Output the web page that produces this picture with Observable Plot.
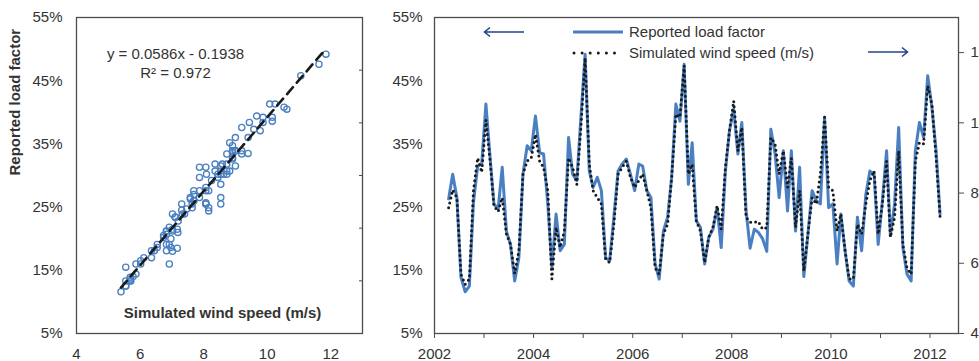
<!DOCTYPE html>
<html>
<head>
<meta charset="utf-8">
<script src="https://cdn.jsdelivr.net/npm/d3@7"></script>
<script src="https://cdn.jsdelivr.net/npm/@observablehq/plot@0.6"></script>
<style>
  html, body { margin: 0; padding: 0; background: #fff; }
  #wrap { position: relative; width: 979px; height: 361px; display: flex; overflow: hidden;
          font-family: "Liberation Sans", Arial, Helvetica, sans-serif; }
  #wrap svg.plot-svg { display: block; flex: none; }
  #overlay { position: absolute; left: 0; top: 0; pointer-events: none; }
</style>
</head>
<body>
<div id="wrap"></div>
<script>
// ---------------- DATA ----------------
// Monthly series, first month April 2002, last month March 2012
const firstMonth = [2002, 4];
// Simulated wind speed (m/s)
const windSpeed = [
  7.58, 8.09, 7.87, 5.69, 5.40, 5.55, 8.07, 9.00, 8.59,
  10.08, 8.91, 7.64, 7.47, 7.87, 6.83, 6.54, 5.71, 6.36, 8.54, 8.91, 9.00,
  9.67, 8.91, 8.73, 8.07, 5.55, 7.02, 6.45, 6.92, 9.00, 8.73, 8.25, 9.87,
  11.85, 8.82, 8.07, 7.87, 7.69, 6.12, 6.02, 7.11, 8.54, 8.73, 8.91, 8.45,
  8.16, 8.36, 8.54, 8.07, 7.58, 5.87, 5.69, 6.83, 7.11, 8.45, 10.25, 10.16,
  11.63, 8.54, 8.82, 7.20, 6.92, 6.02, 6.74, 7.02, 7.64, 6.97, 8.73, 9.78,
  10.62, 9.20, 9.87, 7.31, 7.17, 7.17, 7.19, 6.97, 7.02, 9.58, 9.40, 8.54,
  9.20, 8.16, 9.00, 7.02, 8.07, 5.78, 6.83, 7.87, 7.69, 8.54, 10.16, 8.16,
  8.07, 6.92, 7.40, 6.36, 5.55, 5.55, 7.11, 6.83, 7.69, 8.36, 8.63, 6.83,
  7.69, 8.91, 6.74, 7.31, 9.20, 6.54, 5.87, 5.69, 8.91, 9.44, 9.40, 11.06,
  10.53, 9.00, 7.33
];
// Reported load factor (%)
const loadFactor = [
  26.3, 30.2, 26.5, 13.9, 11.6, 12.5, 25.7, 31.5, 31.8,
  41.3, 32.8, 25.5, 24.7, 31.3, 21.2, 19.1, 13.3, 17.0, 30.2, 34.7, 33.9,
  39.4, 33.6, 33.4, 25.5, 15.5, 23.9, 18.1, 19.1, 36.0, 30.2, 29.2, 39.2,
  49.2, 30.7, 28.1, 29.7, 27.6, 17.0, 16.5, 23.4, 30.7, 31.8, 32.6, 30.2,
  27.6, 31.8, 31.5, 27.6, 26.5, 16.0, 13.6, 21.2, 23.4, 29.7, 41.3, 38.6,
  47.6, 28.6, 35.2, 22.8, 21.8, 16.0, 20.2, 21.5, 24.9, 18.6, 30.7, 37.1,
  40.5, 33.4, 38.4, 24.5, 18.5, 21.5, 21.0, 20.0, 18.0, 37.3, 33.5, 26.5,
  33.9, 24.4, 33.9, 21.2, 31.3, 14.0, 20.7, 27.6, 26.0, 25.5, 39.2, 24.9,
  25.5, 16.0, 23.9, 18.1, 13.3, 12.5, 23.4, 18.1, 27.0, 30.7, 30.2, 19.1,
  26.0, 33.9, 20.5, 25.5, 37.6, 18.6, 14.4, 13.3, 33.9, 38.4, 36.0, 45.8,
  40.8, 33.9, 23.9
];
// Regression fit shown on the scatter
const fitSlope = 0.0586, fitIntercept = -0.1938;
const equationText = ["y = 0.0586x - 0.1938", "R\u00b2 = 0.972"];
// Axis ticks
const pctTicks = [0.05, 0.15, 0.25, 0.35, 0.45, 0.55];
const scatterXTicks = [4, 6, 8, 10, 12];
const windAxisTicks = [4, 6, 8, 10, 12];
const yearTickRange = [2002, 2012];
const secondaryDivisions = [1, 2, 3, 4, 5];
const legendLabels = ["Reported load factor", "Simulated wind speed (m/s)"];

// ---------------- SETUP ----------------
const FONT = '"Liberation Sans", Arial, Helvetica, sans-serif';
const BLUE = "#4a7fc1";
const DOT = "#1a1a1a";
const FRAME = "#4d4d4d";
const TXT = "#333";
const yDomain = [0.05, 0.55];
const windDomain = [4, 13];
// secondary (wind) axis maps onto the load-factor axis
const windToY = d3.scaleLinear().domain(windDomain).range(yDomain);

const series = windSpeed.map((w, i) => ({
  date: new Date(Date.UTC(firstMonth[0], firstMonth[1] - 1 + i, 15)),
  wind: w,
  lf: loadFactor[i] / 100
}));
const windExtent = d3.extent(windSpeed);
const fitLine = windExtent.map(x => ({x, y: fitSlope * x + fitIntercept}));
const pctFmt = d => `${Math.round(d * 100)}%`;
const style = {fontFamily: FONT, fontSize: "15px", color: TXT, background: "transparent", overflow: "visible"};

// ---------------- LEFT: scatter ----------------
const left = Plot.plot({
  width: 375, height: 361,
  marginLeft: 76, marginRight: 13, marginTop: 17, marginBottom: 28,
  style,
  x: {domain: windDomain},
  y: {domain: yDomain},
  marks: [
    Plot.axisX({ticks: scatterXTicks, tickSize: 0, tickPadding: 15, label: null}),
    Plot.axisY({ticks: pctTicks, tickSize: 0, tickPadding: 14, tickFormat: pctFmt, label: null}),
    Plot.axisY({anchor: "right", ticks: secondaryDivisions.map(k => yDomain[0] + k * (yDomain[1] - yDomain[0]) / 6),
                tickSize: 4, dx: -4, tickFormat: () => "", label: null, stroke: FRAME}),
    Plot.dot(series, {x: "wind", y: "lf", r: 3.1, stroke: BLUE, strokeWidth: 1.3, fill: "none"}),
    Plot.line(fitLine, {x: "x", y: "y", stroke: DOT, strokeWidth: 2.6, strokeDasharray: "9,6"}),
    Plot.frame({stroke: FRAME, strokeWidth: 1.3}),
    Plot.text([equationText[0]], {frameAnchor: "top-left", textAnchor: "middle", dx: 99, dy: 31, fill: TXT, fontSize: 15}),
    Plot.text([equationText[1]], {frameAnchor: "top-left", textAnchor: "middle", dx: 99, dy: 50, fill: TXT, fontSize: 15}),
    Plot.text(["Simulated wind speed (m/s)"], {frameAnchor: "bottom", dx: 3, dy: -16, fill: TXT, fontSize: 15, fontWeight: "bold"}),
    Plot.text(["Reported load factor"], {frameAnchor: "left", dx: -61, rotate: -90, fill: TXT, fontSize: 15, fontWeight: "bold"})
  ]
});

// ---------------- RIGHT: time series ----------------
const yearTicks = d3.range(yearTickRange[0], yearTickRange[1] + 1).map(y => new Date(Date.UTC(y, 0, 1)));
const right = Plot.plot({
  width: 604, height: 361,
  marginLeft: 59, marginRight: 21, marginTop: 17, marginBottom: 28,
  style,
  x: {type: "utc", domain: [new Date(Date.UTC(2002, 0, 1)), new Date(Date.UTC(2012, 6, 29))]},
  y: {domain: yDomain},
  marks: [
    Plot.axisX({ticks: yearTicks, tickSize: 5, tickPadding: 10, stroke: FRAME,
                tickFormat: d => d.getUTCFullYear() % 2 === 0 ? String(d.getUTCFullYear()) : "", label: null}),
    Plot.axisY({ticks: pctTicks, tickSize: 0, tickPadding: 12, tickFormat: pctFmt, label: null}),
    Plot.axisY({anchor: "right", ticks: windAxisTicks.map(w => windToY(w)), tickSize: 5, tickPadding: 7, stroke: FRAME,
                tickFormat: d => String(Math.round(windToY.invert(d))), label: null}),
    Plot.line(series, {x: "date", y: "lf", stroke: BLUE, strokeWidth: 3, strokeLinejoin: "round"}),
    Plot.line(series, {x: "date", y: d => windToY(d.wind), stroke: DOT, strokeWidth: 3,
                       strokeDasharray: "0,5", strokeLinecap: "round"}),
    Plot.frame({stroke: FRAME, strokeWidth: 1.3})
  ]
});

const wrap = document.getElementById("wrap");
left.classList.add("plot-svg");
right.classList.add("plot-svg");
wrap.appendChild(left);
wrap.appendChild(right);

// ---------------- Legend and arrows (overlay) ----------------
const ov = d3.select(wrap).append("svg").attr("id", "overlay").attr("width", 979).attr("height", 361)
  .style("font-family", FONT).style("font-size", "15px");
const lg = ov.append("g").attr("transform", "translate(573,0)");
lg.append("line").attr("x1", 0).attr("x2", 50).attr("y1", 32).attr("y2", 32)
  .attr("stroke", BLUE).attr("stroke-width", 3);
lg.append("line").attr("x1", 1).attr("x2", 42).attr("y1", 53).attr("y2", 53)
  .attr("stroke", DOT).attr("stroke-width", 3).attr("stroke-linecap", "round").attr("stroke-dasharray", "0,8.1");
lg.selectAll("text.l").data(legendLabels).join("text")
  .attr("x", 56).attr("y", (d, i) => 32 + i * 21 + 5).attr("fill", TXT).text(d => d);
const ARROW = "#23468f";
// left-pointing arrow (load factor -> left axis)
ov.append("path").attr("d", "M524,32 H485 M490,27.5 L484.5,32 L490,36.5")
  .attr("fill", "none").attr("stroke", ARROW).attr("stroke-width", 1.6);
// right-pointing arrow (wind speed -> right axis)
ov.append("path").attr("d", "M868,52 H907 M902,47.5 L907.5,52 L902,56.5")
  .attr("fill", "none").attr("stroke", ARROW).attr("stroke-width", 1.6);
</script>
</body>
</html>
